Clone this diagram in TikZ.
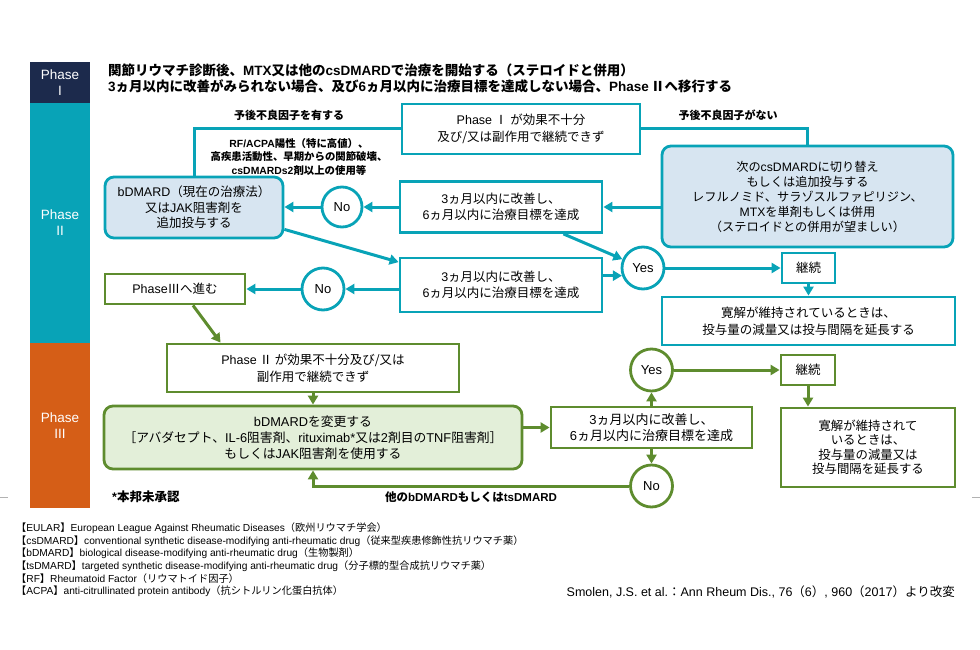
\documentclass[tikz,border=0pt]{standalone}
\usepackage{fontspec}
\setmainfont{Noto Sans CJK JP}
\newfontfamily\lat{Liberation Sans}
\newcommand\la[1]{{\lat #1}}
\usetikzlibrary{arrows.meta,calc,positioning}
\definecolor{teal1}{RGB}{8,163,183}
\definecolor{navy1}{RGB}{28,42,76}
\definecolor{orange1}{RGB}{213,94,23}
\definecolor{green1}{RGB}{94,140,46}
\definecolor{lblue}{RGB}{215,229,241}
\definecolor{lgreen}{RGB}{227,239,217}
\tikzset{
  tbox/.style={draw=teal1,line width=2.8pt,fill=white,align=center,inner sep=2pt,font=\fontsize{12.5}{16.5}\selectfont},
  rbox/.style={tbox,rounded corners=9pt,fill=lblue},
  gbox/.style={tbox,draw=green1},
  rgbox/.style={gbox,rounded corners=9pt,fill=lgreen},
  circ/.style={circle,draw=teal1,line width=2.8pt,fill=white,minimum size=42pt,inner sep=0pt,font=\lat\fontsize{13}{15}\selectfont},
  gcirc/.style={circ,draw=green1},
  arr/.style={draw=teal1,line width=3pt,-{Triangle[length=9pt,width=10pt]}},
  garr/.style={arr,draw=green1},
  ln/.style={draw=teal1,line width=3pt},
  lbl/.style={font=\bfseries\fontsize{11}{13}\selectfont,inner sep=0pt},
  phaselbl/.style={text=white,align=center,font=\lat\fontsize{13.5}{16}\selectfont},
  foot/.style={anchor=west,inner sep=0pt,font=\fontsize{10.2}{12}\selectfont}
}
\begin{document}
\begin{tikzpicture}[x=1pt,y=-1pt]
\useasboundingbox (0,0) rectangle (980,650);
% phase bars
\fill[navy1] (30,62) rectangle (90,103);
\fill[teal1] (30,103) rectangle (90,343);
\fill[orange1] (30,343) rectangle (90,508);
\node[phaselbl] (ph1) at (60,83) {Phase\\I};
\node[phaselbl] (ph2) at (60,223) {Phase\\II};
\node[phaselbl] (ph3) at (60,426) {Phase\\III};
\draw[gray!60,line width=0.6pt] (0,497) -- (8,497);
\draw[gray!60,line width=0.6pt] (972,497) -- (980,497);
% title
\node[anchor=west,inner sep=0pt,font=\bfseries\fontsize{13.5}{15}\selectfont] (t1) at (108,70) {関節リウマチ診断後、\la{MTX}又は他の\la{csDMARD}で治療を開始する（ステロイドと併用）};
\node[anchor=west,inner sep=0pt,font=\bfseries\fontsize{13.5}{15}\selectfont] (t2) at (108,86) {\la{3}ヵ月以内に改善がみられない場合、及び\la{6}ヵ月以内に治療目標を達成しない場合、\la{Phase\,}Ⅱへ移行する};
% labels
\node[lbl] (lyes) at (289,115) {予後不良因子を有する};
\node[lbl] (lno) at (728,115) {予後不良因子がない};
\node[align=center,inner sep=0pt,font=\bfseries\fontsize{10.4}{13.5}\selectfont] (rf) at (299,157) {\la{RF/ACPA}陽性（特に高値）、\\高疾患活動性、早期からの関節破壊、\\\la{csDMARDs2}剤以上の使用等};
% phase II nodes
\node[tbox,minimum width=238pt,minimum height=50pt] (p1) at (521,129) {\la{Phase} Ⅰ が効果不十分\\及び/又は副作用で継続できず};
\node[rbox,minimum width=291pt,minimum height=101pt,font=\fontsize{12.2}{15}\selectfont] (cs) at (807.5,196.5) {次の\la{csDMARD}に切り替え\\もしくは追加投与する\\レフルノミド、サラゾスルファピリジン、\\\la{MTX}を単剤もしくは併用\\（ステロイドとの併用が望ましい）};
\node[rbox,minimum width=178pt,minimum height=61pt,font=\fontsize{12.5}{15.5}\selectfont] (bd) at (194,207.5) {\la{bDMARD}（現在の治療法）\\又は\la{JAK}阻害剤を\\追加投与する};
\node[tbox,minimum width=202pt,minimum height=51pt] (q1) at (501,207) {\la{3}ヵ月以内に改善し、\\\la{6}ヵ月以内に治療目標を達成};
\node[circ,minimum size=40pt] (no1) at (342,207) {No};
\node[tbox,minimum width=202pt,minimum height=54pt] (q2) at (501,285) {\la{3}ヵ月以内に改善し、\\\la{6}ヵ月以内に治療目標を達成};
\node[circ] (yes1) at (643,268) {Yes};
\node[tbox,minimum width=53pt,minimum height=30pt] (k1) at (808.5,268) {継続};
\node[tbox,minimum width=293pt,minimum height=48pt] (r1) at (808.5,321) {寛解が維持されているときは、\\投与量の減量又は投与間隔を延長する};
\node[circ] (no2) at (323,289) {No};
\node[gbox,minimum width=140pt,minimum height=30pt] (p3) at (175,289) {\la{Phase}Ⅲへ進む};
% phase III nodes
\node[gbox,minimum width=292pt,minimum height=48pt] (p2f) at (313,368) {\la{Phase} Ⅱ が効果不十分及び/又は\\副作用で継続できず};
\node[rgbox,minimum width=418pt,minimum height=63pt,font=\fontsize{12.8}{16}\selectfont] (bg) at (313,437.5) {\la{bDMARD}を変更する\\［アバダセプト、\la{IL-6}阻害剤、\la{rituximab*}又は\la{2}剤目の\la{TNF}阻害剤］\\もしくは\la{JAK}阻害剤を使用する};
\node[gbox,minimum width=201pt,minimum height=41pt,font=\fontsize{13}{16}\selectfont] (q3) at (651.5,427.5) {\la{3}ヵ月以内に改善し、\\\la{6}ヵ月以内に治療目標を達成};
\node[gcirc] (yes2) at (651.5,370) {Yes};
\node[gcirc] (no3) at (651.5,486) {No};
\node[gbox,minimum width=54pt,minimum height=30pt] (k2) at (808,370) {継続};
\node[gbox,minimum width=174pt,minimum height=79pt,font=\fontsize{12.4}{14.5}\selectfont] (r2) at (868,447.5) {寛解が維持されて\\いるときは、\\投与量の減量又は\\投与間隔を延長する};
\node[lbl,font=\bfseries\fontsize{11.5}{13}\selectfont] (other) at (471,497) {他の\la{bDMARD}もしくは\la{tsDMARD}};
\node[lbl,anchor=west,font=\bfseries\fontsize{12.5}{14}\selectfont] (note) at (112,497) {\la{*}本邦未承認};
% connectors teal
\draw[ln] (p1.west) -| (bd.north);
\draw[ln] (p1.east) -| (cs.north);
\draw[arr] (q1.east -| cs.west) -- (q1.east);
\draw[arr] (q1.west) -- (no1.east);
\draw[arr] (no1.west) -- (bd.east |- no1.west);
\draw[arr] ($(bd.south east)+(0,-10)$) -- ($(q2.north west)+(0,5.5)$);
\draw[arr] ($(q1.south east)+(-40,0)$) -- (yes1);
\draw[arr] (q2.east |- yes1.200) -- (yes1.200);
\draw[arr] (yes1.east) -- (k1.west);
\draw[arr] (k1.south) -- (r1.north);
\draw[arr] (q2.west |- no2.east) -- (no2.east);
\draw[arr] (no2.west) -- (p3.east);
% connectors green
\draw[garr] ($(p3.south)+(18,0)$) -- ($(p2f.north west)+(55,0)$);
\draw[garr] (p2f.south) -- (bg.north);
\draw[garr] (bg.east |- q3.west) -- (q3.west);
\draw[garr] (q3.north) -- (yes2.south);
\draw[garr] (q3.south) -- (no3.north);
\draw[garr] (yes2.east) -- (k2.west);
\draw[garr] (k2.south) -- (k2.south |- r2.north);
\draw[garr] (no3.west) -| (bg.south);
% footnotes
\node[foot] (f1) at (16,528) {【\la{EULAR}】\la{European League Against Rheumatic Diseases}（欧州リウマチ学会）};
\node[foot] (f2) at (16,541) {【\la{csDMARD}】\la{conventional synthetic disease-modifying anti-rheumatic drug}（従来型疾患修飾性抗リウマチ薬）};
\node[foot] (f3) at (16,553.5) {【\la{bDMARD}】\la{biological disease-modifying anti-rheumatic drug}（生物製剤）};
\node[foot] (f4) at (16,566) {【\la{tsDMARD}】\la{targeted synthetic disease-modifying anti-rheumatic drug}（分子標的型合成抗リウマチ薬）};
\node[foot] (f5) at (16,579) {【\la{RF}】\la{Rheumatoid Factor}（リウマトイド因子）};
\node[foot] (f6) at (16,591.5) {【\la{ACPA}】\la{anti-citrullinated protein antibody}（抗シトルリン化蛋白抗体）};
\node[anchor=east,inner sep=0pt,font=\fontsize{12.5}{14}\selectfont] (cite) at (955,592) {\la{Smolen, J.S. et al.}：\la{Ann Rheum Dis., 76}（\la{6}）\la{, 960}（\la{2017}）より改変};
\end{tikzpicture}
\end{document}
